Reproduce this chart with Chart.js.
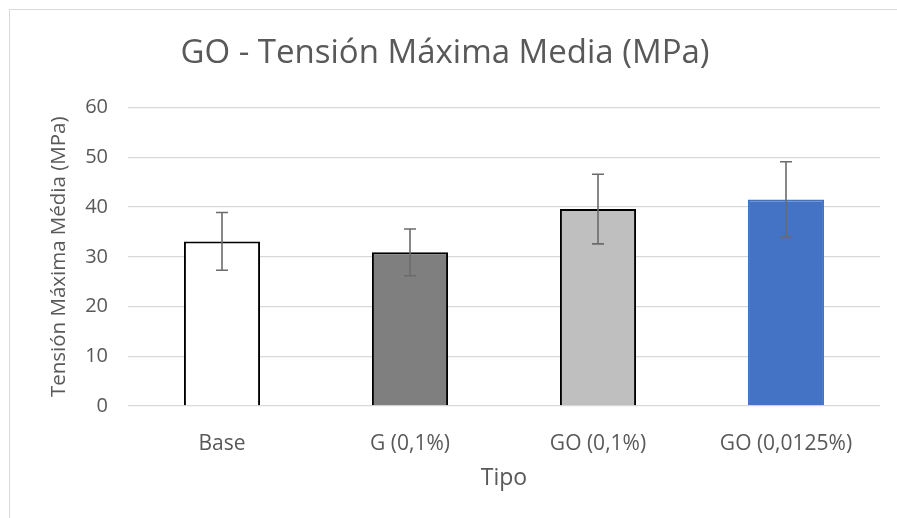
<!DOCTYPE html>
<html>
<head>
<meta charset="utf-8">
<title>GO - Tensión Máxima Media</title>
<script src="https://cdn.jsdelivr.net/npm/chart.js@4.4.1/dist/chart.umd.min.js"></script>
<style>
  html, body { margin: 0; padding: 0; background: #fff; }
  .wrap { position: relative; width: 897px; height: 518px; overflow: hidden; }
  .frame {
    position: absolute; left: 9px; top: 9px; width: 900px; height: 520px;
    border-top: 1.5px solid #d9d9d9; border-left: 1.5px solid #d9d9d9;
    pointer-events: none;
  }
</style>
</head>
<body>
<div class="wrap">
  <canvas id="chart"></canvas>
  <div class="frame"></div>
</div>
<script>
const categories = ['Base', 'G (0,1%)', 'GO (0,1%)', 'GO (0,0125%)']
const meanValues = [33.1, 30.9, 39.6, 41.5]
const errValues = [5.8, 4.7, 7.0, 7.6]
const yTicks = [0, 10, 20, 30, 40, 50, 60]

const barColors = ['#ffffff', '#7f7f7f', '#bfbfbf', '#4472c4']
const barBorders = ['#000000', '#000000', '#000000', '#4472c4']
const textColor = '#595959'
const fontFamily = "'Open Sans', 'Noto Sans', sans-serif"

// draws symmetric error bars on top of each bar, using the y scale
const errorBars = {
  id: 'errorBars',
  afterDatasetsDraw(chart) {
    const { ctx, scales: { y } } = chart
    const meta = chart.getDatasetMeta(0)
    ctx.save()
    ctx.strokeStyle = '#6b6b6b'
    ctx.lineWidth = 1.6
    meta.data.forEach((bar, i) => {
      const top = y.getPixelForValue(meanValues[i] + errValues[i])
      const bottom = y.getPixelForValue(meanValues[i] - errValues[i])
      const cap = 6
      ctx.beginPath()
      ctx.moveTo(bar.x, top)
      ctx.lineTo(bar.x, bottom)
      ctx.moveTo(bar.x - cap, top)
      ctx.lineTo(bar.x + cap, top)
      ctx.moveTo(bar.x - cap, bottom)
      ctx.lineTo(bar.x + cap, bottom)
      ctx.stroke()
    })
    ctx.restore()
  }
}

new Chart(document.getElementById('chart'), {
  type: 'bar',
  data: {
    labels: categories,
    datasets: [{
      data: meanValues,
      backgroundColor: barColors,
      borderColor: barBorders,
      borderWidth: 2,
      borderSkipped: 'start',
      barPercentage: 0.405,
      categoryPercentage: 1
    }]
  },
  options: {
    responsive: true,
    maintainAspectRatio: false,
    animation: false,
    layout: { padding: { left: 10, right: 17, top: 0, bottom: 0 } },
    plugins: {
      legend: { display: false },
      tooltip: { enabled: false },
      title: {
        display: true,
        text: 'GO - Tensión Máxima Media (MPa)',
        color: textColor,
        font: { family: fontFamily, size: 33, weight: 'normal' },
        padding: { top: 34, bottom: 34 }
      }
    },
    scales: {
      x: {
        grid: { display: false },
        border: { display: false },
        ticks: {
          color: textColor,
          font: { family: fontFamily, size: 21 },
          padding: 17,
          maxRotation: 0
        },
        title: {
          display: true,
          text: 'Tipo',
          color: textColor,
          font: { family: fontFamily, size: 23 },
          padding: { top: 0, bottom: 26 }
        },
        afterFit: (scale) => { scale.height = 112 }
      },
      y: {
        min: 0,
        max: 60,
        afterBuildTicks: (scale) => { scale.ticks = yTicks.map(v => ({ value: v })) },
        grid: { color: '#d9d9d9', lineWidth: 1.3, drawTicks: false },
        border: { display: false },
        ticks: {
          color: textColor,
          font: { family: fontFamily, size: 20 },
          padding: 20
        },
        title: {
          display: true,
          text: 'Tensión Máxima Média (MPa)',
          color: textColor,
          font: { family: fontFamily, size: 20.5 },
          padding: { top: 37, bottom: 0 }
        },
        afterFit: (scale) => { scale.width = 118 }
      }
    }
  },
  plugins: [errorBars]
})
</script>
</body>
</html>
